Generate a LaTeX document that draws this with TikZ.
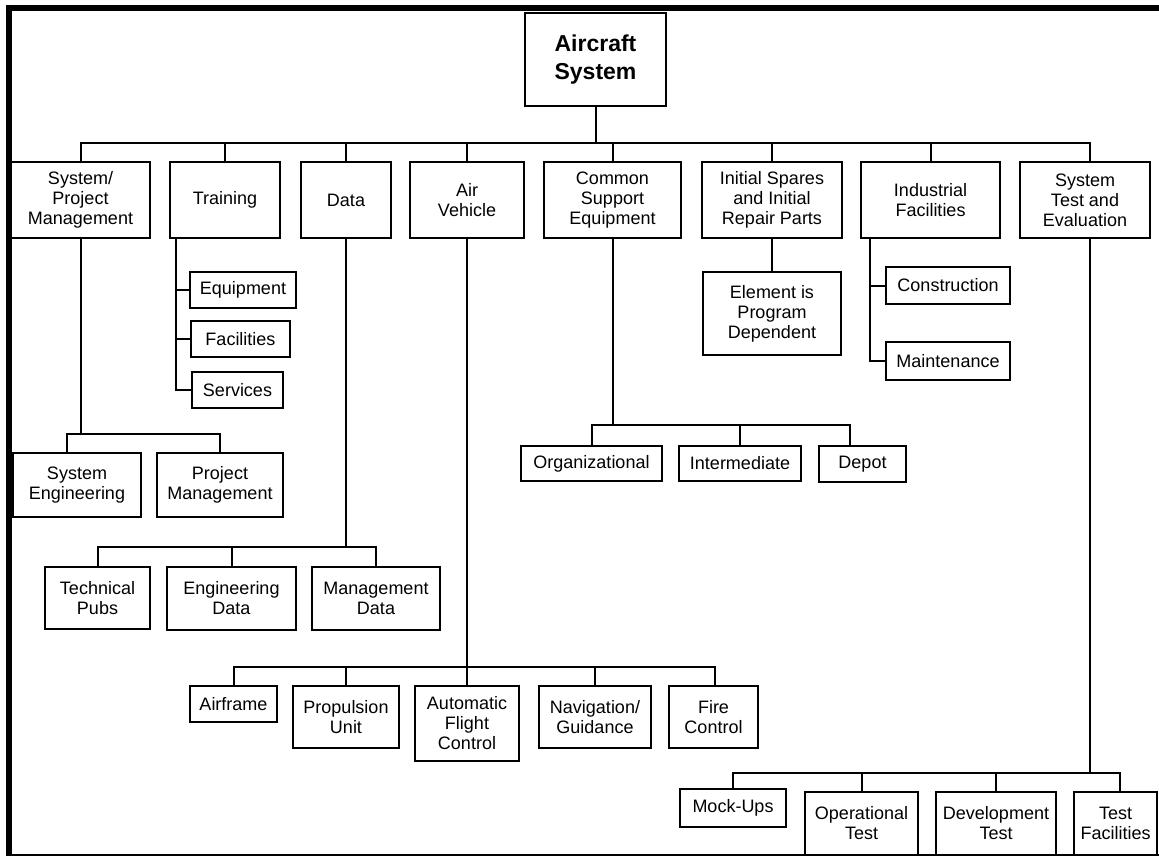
\documentclass[tikz,border=0pt]{standalone}
\usepackage{fontspec}
\setmainfont{Liberation Sans}
\begin{document}
\begin{tikzpicture}[x=1pt,y=-1pt,
  box/.style={draw=black, fill=white, line width=2.2pt, align=center, inner sep=0pt,
    font=\fontsize{18}{20}\selectfont},
  topbox/.style={box, font=\fontsize{23}{28}\selectfont\bfseries},
  link/.style={draw=black, line width=2pt}]
% box by its corners: name, x1, y1, x2, y2, text, extra style
\newcommand{\wbsbox}[7][box]{%
  \pgfmathsetmacro\bw{#5-#3}\pgfmathsetmacro\bh{#6-#4}%
  \node[#1, minimum width=\bw pt, minimum height=\bh pt] (#2) at ({(#3+#5)/2},{(#4+#6)/2}) {#7};}
\useasboundingbox (0,0) rectangle (1159,856);
% outer frame
\draw[line width=6pt] (8.5,856) -- (8.5,8.5) -- (1159,8.5);
\draw[line width=1.5pt] (8.5,855) -- (1159,855);

% level 0
\wbsbox[topbox]{top}{525}{13}{666}{106}{Aircraft\\System}
% level 1
\wbsbox{spm}{11}{162}{150}{238}{System/\\Project\\Management}
\wbsbox{trn}{170}{162}{280}{238}{Training}
\wbsbox{dat}{301}{162}{391}{238}{Data}
\wbsbox{av}{410}{162}{524}{238}{Air\\Vehicle}
\wbsbox{cse}{544}{162}{681}{238}{Common\\Support\\Equipment}
\wbsbox{isp}{702}{162}{842}{238}{Initial Spares\\and Initial\\Repair Parts}
\wbsbox{ind}{861}{162}{1000}{238}{Industrial\\Facilities}
\wbsbox{ste}{1020}{162}{1150}{238}{System\\Test and\\Evaluation}
% training
\wbsbox{eqp}{190}{272}{296}{308}{Equipment}
\wbsbox{fac}{191}{321}{290}{357}{Facilities}
\wbsbox{srv}{192}{372}{283}{408}{Services}
% system / project management
\wbsbox{se}{13}{453}{141}{517}{System\\Engineering}
\wbsbox{pm}{157}{453}{283}{517}{Project\\Management}
% data
\wbsbox{tp}{45}{567}{150}{629}{Technical\\Pubs}
\wbsbox{ed}{167}{567}{296}{630}{Engineering\\Data}
\wbsbox{md}{312}{567}{440}{630}{Management\\Data}
% air vehicle
\wbsbox{af}{190}{686}{277}{722}{Airframe}
\wbsbox{pu}{293}{686}{399}{748}{Propulsion\\Unit}
\wbsbox{afc}{415}{686}{519}{761}{Automatic\\Flight\\Control}
\wbsbox{ng}{539}{686}{651}{748}{Navigation/\\Guidance}
\wbsbox{fc}{669}{686}{758}{748}{Fire\\Control}
% common support equipment
\wbsbox{org}{521}{446}{662}{481}{Organizational}
\wbsbox{int}{679}{446}{801}{481}{Intermediate}
\wbsbox{dep}{819}{446}{906}{482}{Depot}
% initial spares
\wbsbox{epd}{703}{272}{841}{355}{Element is\\Program\\Dependent}
% industrial facilities
\wbsbox{con}{886}{267}{1010}{304}{Construction}
\wbsbox{mnt}{886}{342}{1010}{380}{Maintenance}
% system test and evaluation
\wbsbox{mu}{680}{789}{786}{827}{Mock-Ups}
\wbsbox{ot}{805}{792}{918}{855}{Operational\\Test}
\wbsbox{dt}{936}{792}{1056}{855}{Development\\Test}
\wbsbox{tf}{1074}{792}{1157}{855}{Test\\Facilities}

% connectors: level 0 to level 1
\coordinate (hub) at (595.5,143);
\draw[link] (top.south) -- (hub);
\foreach \n in {spm,trn,dat,av,cse,isp,ind} \draw[link] (hub) -| (\n.north);
\draw[link] (hub) -| ([xshift=5pt]ste.north);
% training
\coordinate (trnb) at ([xshift=7pt]trn.south west);
\draw[link] (trnb) |- (srv.west);
\draw[link] (eqp.west) -- (eqp.west -| trnb);
\draw[link] (fac.west) -- (fac.west -| trnb);
% system / project management
\coordinate (spmj) at ([yshift=-195pt]spm.south);
\draw[link] (spm.south) -- (spmj);
\draw[link] (spmj) -| ([xshift=-10pt]se.north);
\draw[link] (spmj) -| (pm.north);
% data
\coordinate (datj) at ([yshift=-308pt]dat.south);
\draw[link] (dat.south) -- (datj);
\foreach \n in {tp,ed,md} \draw[link] (datj) -| (\n.north);
% air vehicle
\coordinate (avj) at ([yshift=-428pt]av.south);
\draw[link] (av.south) -- (afc.north);
\foreach \n in {af,pu,ng} \draw[link] (avj) -| (\n.north);
\draw[link] (avj) -| ([xshift=1.5pt]fc.north);
% common support equipment
\coordinate (csej) at ([yshift=-186pt]cse.south);
\draw[link] (cse.south) -- (csej);
\draw[link] (csej) -| (org.north);
\draw[link] (csej) -| (int.north);
\draw[link] (csej) -| ([xshift=-13pt]dep.north);
% initial spares
\draw[link] (isp.south) -- (epd.north);
% industrial facilities
\coordinate (indb) at ([xshift=10pt]ind.south west);
\draw[link] (indb) |- (mnt.west);
\draw[link] (con.west) -- (con.west -| indb);
% system test and evaluation
\coordinate (steb) at ([xshift=5pt]ste.south);
\coordinate (stej) at ([yshift=-534pt]steb);
\draw[link] (steb) -- (stej);
\foreach \n in {mu,ot,dt} \draw[link] (stej) -| (\n.north);
\draw[link] (stej) -| ([xshift=4pt]tf.north);
\end{tikzpicture}
\end{document}
